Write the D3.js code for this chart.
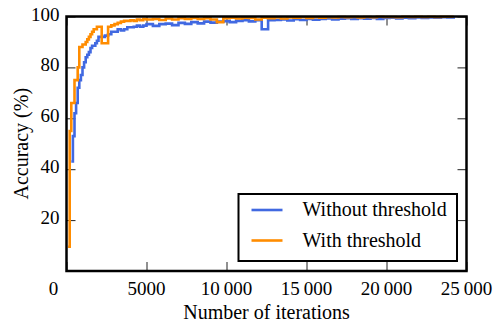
<!DOCTYPE html>
<html>
<head>
<meta charset="utf-8">
<script src="https://cdn.jsdelivr.net/npm/d3@7"></script>
<style>
  body { margin: 0; background: #fff; }
  svg text { font-family: "Liberation Serif", "Times New Roman", serif; fill: #000; }
</style>
</head>
<body>
<svg id="chart"></svg>
<script>
// iterations shared by both runs
const iterations = [
  100, 200, 300, 400, 500, 600, 700, 800, 900, 1000,
  1100, 1200, 1300, 1400, 1500, 1600, 1700, 1800, 1900, 2000,
  2200, 2400, 2600, 2800, 3000, 3200, 3400, 3600, 3800, 4000,
  4200, 4400, 4600, 4800, 5000,
  5400, 5800, 6200, 6600, 7000, 7400, 7800, 8200, 8600, 9000,
  9400, 9800, 10200, 10600, 11000, 11400, 11800, 12200, 12600, 13000,
  13400, 13800, 14200, 14600, 15000, 15400, 15800, 16200, 16600, 17000,
  17400, 17800, 18200, 18600, 19000, 19400, 19800, 20200, 20600, 21000,
  21400, 21800, 22200, 22600, 23000, 23400, 23800, 24200
];

const withoutThreshold = [
  null, null, 43, 53, 62, 66, 72, 75, 77, 80,
  82, 84, 85, 86, 87.6, 88.5, 88.5, 89.5, 90.5, 92,
  92, 92.5, 93, 94, 94, 95, 94.5, 95, 95.8, 95.8,
  96, 96.4, 96, 96.4, 97,
  96.3, 97, 97.2, 96.6, 97.5, 97.1, 97.8, 97.3, 98, 97.6,
  98, 98.2, 97.8, 98.3, 98.5, 98.1, 98.5, 95, 98.5, 98.6,
  98.8, 98.4, 98.9, 98.6, 99, 98.7, 99, 99.2, 98.8, 99.1,
  99.3, 99, 99.3, 99.1, 99.4, 99, 99.4, 99.5, 99.2, 99.5,
  99.3, 99.6, 99.4, 99.6, 99.5, 99.7, 99.6, 99.7
];

const withThreshold = [
  9.5, 55, 66, 66, 75, 75, 80, 88, 88, 89,
  89, 90, 91, 92, 93, 94, 95, 95, 96, 96,
  89.5, 89.5, 96, 96.5, 97, 97.5, 98, 98.3, 98.3, 98.5,
  98.3, 98.8, 98.5, 99, 98.8,
  99, 98.6, 99.2, 98.8, 99.3, 99, 99.4, 99, 99.3, 98.8,
  97.8, 99.3, 99.5, 99.2, 99.5, 99.4, 98.8, 99.5, 99.3, 99.6,
  99.2, 99.6, 99.5, 99.7, 99.4, 99.7, 99.5, 99.7, 99.6, 99.8,
  99.7, 99.8, 99.6, 99.8, 99.7, 99.9, 99.8, 99.8, 99.7, 99.9,
  99.8, 99.9, 99.8, 99.9, 99.8, 99.9, 99.9, 99.9
];

const xTicks = [0, 5000, 10000, 15000, 20000, 25000];
const xTickLabels = ["0", "5000", "10\u2009000", "15\u2009000", "20\u2009000", "25\u2009000"];
const yTicks = [20, 40, 60, 80, 100];

const series = [
  { name: "Without threshold", color: "#4169e1", values: withoutThreshold },
  { name: "With threshold", color: "#ff8c00", values: withThreshold }
];

const W = 503, H = 325;
const margin = { top: 16.5, right: 36.5, bottom: 54, left: 66.5 };
const width = W - margin.left - margin.right;
const height = H - margin.top - margin.bottom;

const svg = d3.select("#chart").attr("width", W).attr("height", H);
const g = svg.append("g").attr("transform", `translate(${margin.left},${margin.top})`);

const x = d3.scaleLinear([0, 25000], [0, width]);
const y = d3.scaleLinear([0, 100], [height, 0]);

// inward ticks on all four sides
const tickLen = 9;
g.append("g").attr("transform", `translate(0,${height})`)
  .call(d3.axisBottom(x).tickValues(xTicks).tickSize(-tickLen).tickFormat(""))
  .call(a => a.select(".domain").remove());
g.append("g")
  .call(d3.axisTop(x).tickValues(xTicks).tickSize(-tickLen).tickFormat(""))
  .call(a => a.select(".domain").remove());
g.append("g")
  .call(d3.axisLeft(y).tickValues(yTicks).tickSize(-tickLen).tickFormat(""))
  .call(a => a.select(".domain").remove());
g.append("g").attr("transform", `translate(${width},0)`)
  .call(d3.axisRight(y).tickValues(yTicks).tickSize(-tickLen).tickFormat(""))
  .call(a => a.select(".domain").remove());
g.selectAll(".tick line").attr("stroke", "#222").attr("stroke-width", 1);

// tick labels
g.selectAll(".xlab").data(xTicks).enter().append("text")
  .attr("x", d => x(d) + (d === 0 ? -13 : 0))
  .attr("y", height + 24)
  .attr("text-anchor", "middle")
  .style("font-size", "19px")
  .text((d, i) => xTickLabels[i]);

g.selectAll(".ylab").data(yTicks).enter().append("text")
  .attr("x", -7)
  .attr("y", d => y(d) + 4)
  .attr("text-anchor", "end")
  .style("font-size", "19px")
  .text(d => d);

// axis titles
svg.append("text")
  .attr("x", margin.left + width / 2)
  .attr("y", 319)
  .attr("text-anchor", "middle")
  .style("font-size", "20px")
  .text("Number of iterations");

svg.append("text")
  .attr("transform", `translate(28,${margin.top + height / 2}) rotate(-90)`)
  .attr("text-anchor", "middle")
  .style("font-size", "20px")
  .text("Accuracy (%)");

// lines
const line = d3.line()
  .defined(d => d[1] != null)
  .x(d => x(d[0]))
  .y(d => y(d[1]))
  .curve(d3.curveStepAfter);

series.forEach(s => {
  g.append("path")
    .datum(iterations.map((it, i) => [it, s.values[i]]))
    .attr("fill", "none")
    .attr("stroke", s.color)
    .attr("stroke-width", 2.6)
    .attr("d", line);
});

// frame
g.append("rect")
  .attr("width", width).attr("height", height)
  .attr("fill", "none").attr("stroke", "#000").attr("stroke-width", 2.5);

// legend
const lg = svg.append("g").attr("transform", "translate(238.5,194)");
lg.append("rect")
  .attr("width", 218.5).attr("height", 67)
  .attr("fill", "#fff").attr("stroke", "#000").attr("stroke-width", 2);
series.forEach((s, i) => {
  const ly = 16 + i * 30.5;
  lg.append("line")
    .attr("x1", 13).attr("x2", 44)
    .attr("y1", ly).attr("y2", ly)
    .attr("stroke", s.color).attr("stroke-width", 2.6);
  lg.append("text")
    .attr("x", 64).attr("y", ly + 6)
    .style("font-size", "20px")
    .text(s.name);
});
</script>
</body>
</html>
